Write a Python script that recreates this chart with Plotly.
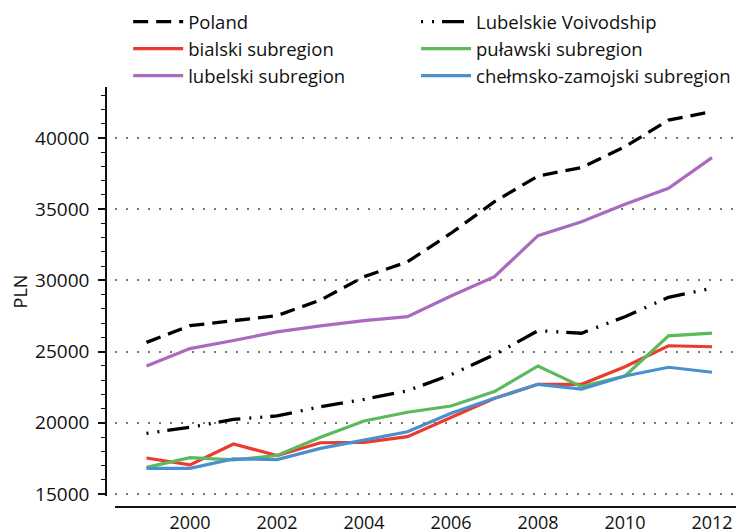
import plotly.graph_objects as go

years = list(range(1999, 2013))

poland = [25650, 26820, 27170, 27520, 28620, 30260, 31300, 33310, 35530, 37330, 37920, 39390, 41260, 41850]
lubelskie_voiv = [19260, 19680, 20240, 20480, 21130, 21650, 22250, 23380, 24780, 26470, 26290, 27450, 28810, 29450]
bialski = [17530, 17040, 18510, 17700, 18600, 18630, 19030, 20390, 21720, 22700, 22700, 23940, 25410, 25340]
pulawski = [16870, 17550, 17390, 17700, 18990, 20130, 20740, 21180, 22190, 23990, 22540, 23290, 26100, 26290]
lubelski = [23990, 25210, 25780, 26380, 26800, 27170, 27450, 28900, 30260, 33140, 34120, 35340, 36470, 38620]
chelmsko = [16800, 16800, 17460, 17420, 18200, 18790, 19370, 20670, 21720, 22700, 22370, 23290, 23900, 23550]

names = ["Poland", "bialski subregion", "lubelski subregion",
         "Lubelskie Voivodship", "puławski subregion", "chełmsko-zamojski subregion"]
series = [poland, bialski, lubelski, lubelskie_voiv, pulawski, chelmsko]
colors = ["#000000", "#EC3A2E", "#A96ABF", "#000000", "#5DB95D", "#4A90CD"]
dashes = ["15px,8px", "solid", "solid", "2px,9px,2px,8px,22px,9px", "solid", "solid"]
widths = [3.3, 3.2, 3.2, 3.3, 3.2, 3.2]
legend_ids = ["legend", "legend", "legend", "legend2", "legend2", "legend2"]

x_ticks = [2000, 2002, 2004, 2006, 2008, 2010, 2012]
y_ticks = [15000, 20000, 25000, 30000, 35000, 40000]

FONT = "Open Sans"
LEG_FONT = dict(family=FONT, size=18.5, color="#111111")

fig = go.Figure()
for name, vals, c, d, w, lg in zip(names, series, colors, dashes, widths, legend_ids):
    fig.add_trace(go.Scatter(x=years, y=vals, mode="lines", name=name, legend=lg,
                             line=dict(color=c, dash=d, width=w)))

# page has an 8px body margin, so the figure is 8px smaller and shifted
fig.update_layout(
    width=736, height=524,
    margin=dict(l=98, r=4, t=79, b=25, autoexpand=False),
    paper_bgcolor="white", plot_bgcolor="white",
    font=dict(family=FONT, size=19, color="#111111"),
    showlegend=True,
    legend=dict(orientation="v", x=0.035, y=1.2, xanchor="left", yanchor="top",
                itemwidth=50, font=LEG_FONT, bgcolor="rgba(0,0,0,0)", tracegroupgap=0),
    legend2=dict(orientation="v", x=0.489, y=1.2, xanchor="left", yanchor="top",
                 itemwidth=50, font=LEG_FONT, bgcolor="rgba(0,0,0,0)", tracegroupgap=0),
    xaxis=dict(domain=[0.0142, 1], anchor="free", position=0, automargin=False,
               range=[1998.276, 2012.644], tickvals=x_ticks,
               ticktext=[str(v) for v in x_ticks],
               showline=True, linecolor="#111111", linewidth=1.5,
               ticks="", showgrid=False, zeroline=False,
               tickfont=dict(family=FONT, size=18, color="#111111")),
    yaxis=dict(domain=[0.0262, 1], anchor="free", position=0, automargin=False,
               range=[14860, 43580], tickvals=y_ticks,
               ticktext=[str(v) for v in y_ticks],
               showline=True, linecolor="#111111", linewidth=1.5,
               ticks="outside", ticklen=7, tickwidth=1.5, tickcolor="#111111",
               ticklabelstandoff=5,
               minor=dict(dtick=1000, ticks="outside", ticklen=4, tickwidth=1.2,
                          tickcolor="#111111", showgrid=False),
               showgrid=True, gridcolor="#777777", gridwidth=1.5, griddash="1.5px,9.5px",
               zeroline=False,
               title=dict(text="PLN", standoff=2, font=dict(family=FONT, size=18, color="#111111")),
               tickfont=dict(family=FONT, size=19, color="#111111")),
)

fig.write_html("out.html")
